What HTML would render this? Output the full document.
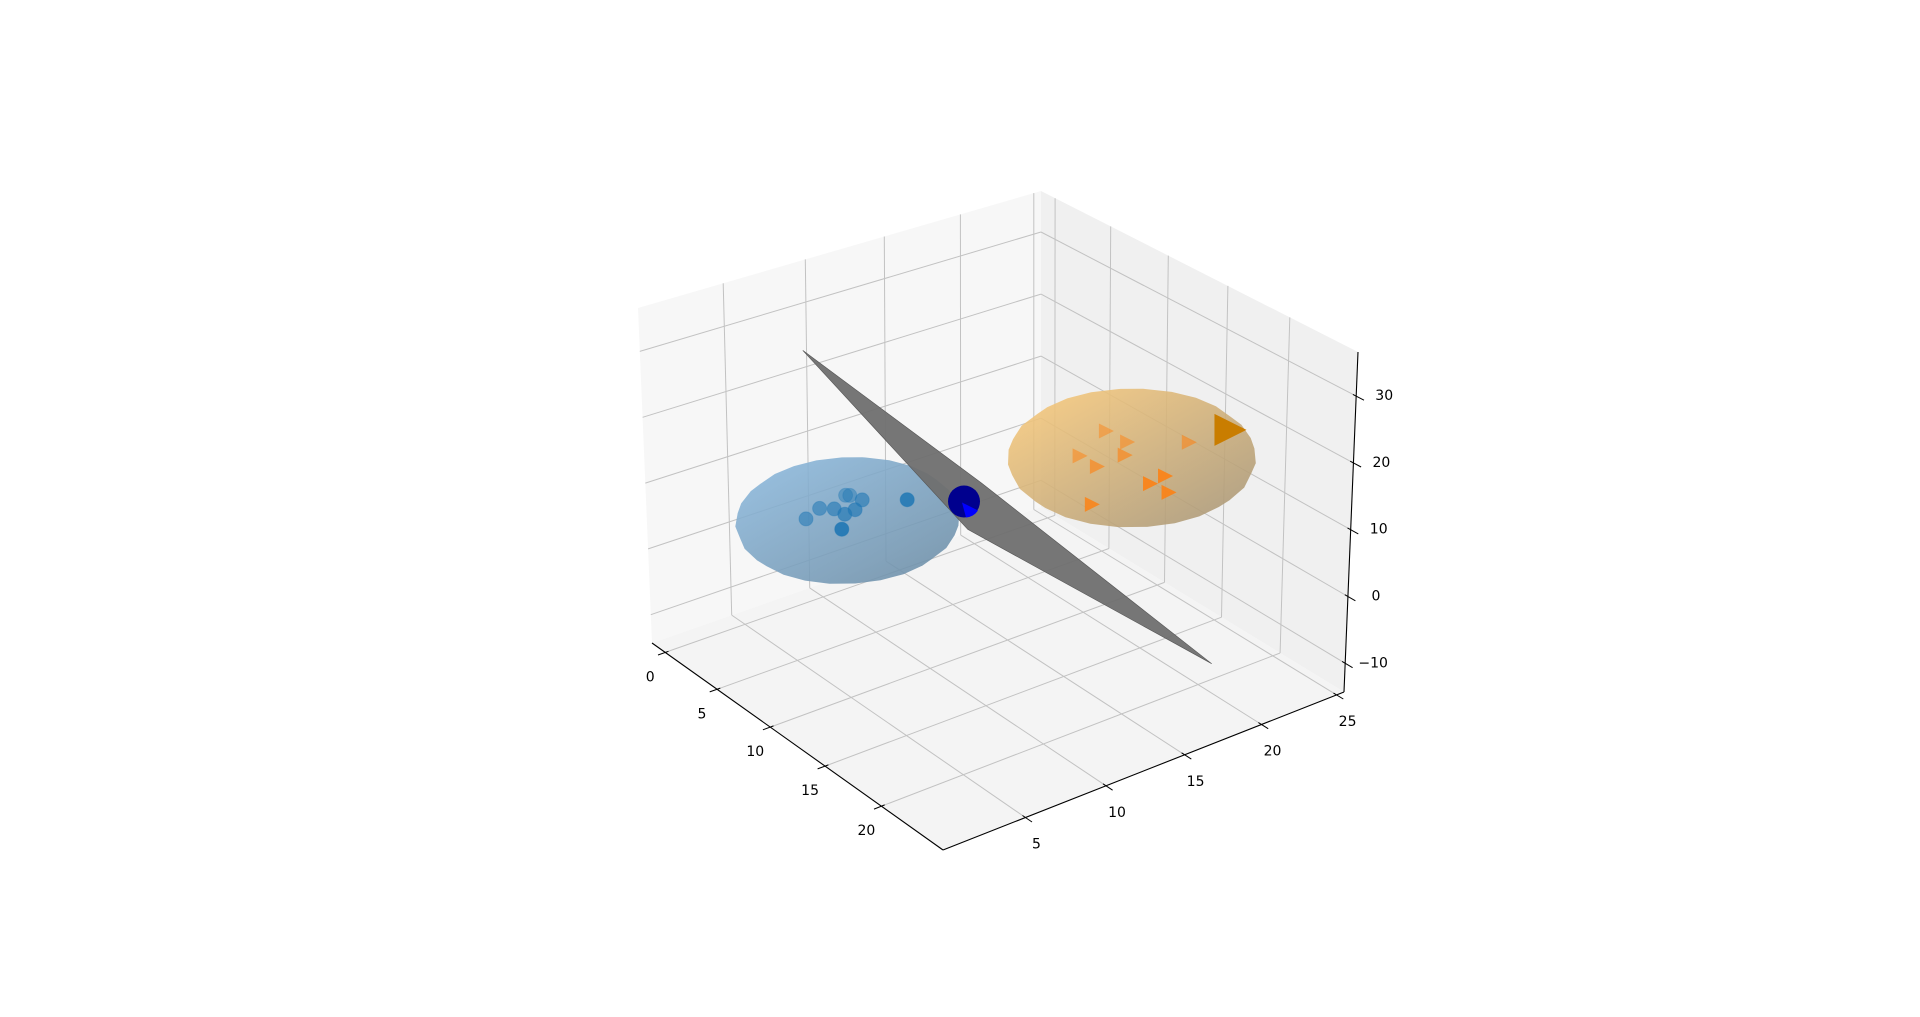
<!DOCTYPE html>
<html><head><meta charset="utf-8">
<style>
html,body{margin:0;padding:0;background:#fff;}
svg{display:block;}
text{font-family:"DejaVu Sans","Liberation Sans",sans-serif;font-size:14px;fill:#000;}
</style></head>
<body>
<svg id="chart" width="1920" height="1017" viewBox="0 0 1920 1017" xmlns="http://www.w3.org/2000/svg">
<defs>
<linearGradient id="gBlue" x1="0" y1="0" x2="1" y2="1"><stop offset="0" stop-color="#8dbbe0"/><stop offset="1" stop-color="#6a8aa2"/></linearGradient>
<linearGradient id="gOrange" x1="0" y1="0" x2="1" y2="1"><stop offset="0" stop-color="#fdcc7a"/><stop offset="1" stop-color="#a39377"/></linearGradient>
</defs>
<g id="panes"></g>
<g id="grid"></g>
<g id="axes"></g>
<g id="marks"></g>
</svg>
<script>
// ---- data ----
const xTicks=[0,5,10,15,20];
const yTicks=[5,10,15,20,25];
const zTicks=[-10,0,10,20,30];
const zTickLabels=["\u221210","0","10","20","30"];
const blueCenter=[5.8,7.75,5.6];
const blueRadius=5.8;
const orangeCenter=[20.8,14.6,25.2];
const orangeRadius=6.2;
const blueX=[5.8,5.8,5.8,5.8,5.8,5.8,5.8,5.8,5.8,5.8];
const blueY=[7.62,7.88,8.65,6.01,6.91,7.56,8.2,5.17,7.36,11.49];
const blueZ=[9.35,9.12,7.81,8.69,7.87,6.53,6.7,7.8,4.43,5.54];
const blueAlpha=[0.45,0.45,0.6,0.55,0.6,0.65,0.65,0.55,0.9,0.85];
const orangeX=[20.8,20.8,20.8,20.8,20.8,20.8,20.8,20.8,20.8,20.8];
const orangeY=[12.92,14.28,18.28,11.31,12.41,14.15,16.79,15.83,17.05,12.15];
const orangeZ=[30.37,27.61,24.28,28.04,25.53,25.76,20.47,20.14,17.82,20.15];
const orangeAlpha=[0.45,0.5,0.55,0.5,0.6,0.6,0.85,0.85,0.85,0.8];
const bigTriangle=[20.8,20.99,23.94];
const separatorPoint=[5.8,15.15,2.3];
const planeCorners=[[-0.2,9.05,24.3],[5.8,16.3,4.2],[17.8,22.65,-15.9],[5.8,15.4,-2.2]];

// ---- projection ----
const XMIN=-1.3,XMAX=25.3,YMIN=0,YMAX=25.5,ZMIN=-14.3,ZMAX=36.6;
const floorQ=[[652,643],[943,850],[1344,692],[1041,507]];
const topQ=[[638,308],[945,500],[1358,352],[1041,191]];
function homog(q){
  const [x0,y0]=q[0],[x1,y1]=q[1],[x2,y2]=q[2],[x3,y3]=q[3];
  const dx1=x1-x2,dx2=x3-x2,dx3=x0-x1+x2-x3,dy1=y1-y2,dy2=y3-y2,dy3=y0-y1+y2-y3;
  const den=dx1*dy2-dx2*dy1;
  const g=(dx3*dy2-dx2*dy3)/den,h=(dx1*dy3-dx3*dy1)/den;
  const a=x1-x0+g*x1,b=x3-x0+h*x3,c=x0,d=y1-y0+g*y1,e=y3-y0+h*y3,f=y0;
  return (u,v)=>{const w=g*u+h*v+1;return [(a*u+b*v+c)/w,(d*u+e*v+f)/w];};
}
const fH=homog(floorQ),tH=homog(topQ);
function proj(x,y,z){
  const u=(x-XMIN)/(XMAX-XMIN),v=(y-YMIN)/(YMAX-YMIN),w=(z-ZMIN)/(ZMAX-ZMIN);
  const a=fH(u,v),b=tH(u,v);
  return [a[0]+(b[0]-a[0])*w,a[1]+(b[1]-a[1])*w];
}
const NS="http://www.w3.org/2000/svg";
function mk(tag,attrs,parent){const el=document.createElementNS(NS,tag);for(const k in attrs)el.setAttribute(k,attrs[k]);parent.appendChild(el);return el;}
function pts(arr){return arr.map(p=>p[0].toFixed(1)+","+p[1].toFixed(1)).join(" ");}
const gP=document.getElementById('panes'),gG=document.getElementById('grid'),gA=document.getElementById('axes'),gM=document.getElementById('marks');

let el;
el=mk('polygon',{points:pts([proj(XMIN,YMIN,ZMIN),proj(XMIN,YMAX,ZMIN),proj(XMIN,YMAX,ZMAX),proj(XMIN,YMIN,ZMAX)]),fill:'#f7f7f7'},gP);


el=mk('polygon',{points:pts([proj(XMIN,YMAX,ZMIN),proj(XMAX,YMAX,ZMIN),proj(XMAX,YMAX,ZMAX),proj(XMIN,YMAX,ZMAX)]),fill:'#f0f0f0'},gP);


el=mk('polygon',{points:pts([proj(XMIN,YMIN,ZMIN),proj(XMAX,YMIN,ZMIN),proj(XMAX,YMAX,ZMIN),proj(XMIN,YMAX,ZMIN)]),fill:'#f4f4f4'},gP);



function line(p,q,parent,stroke,sw){return mk('line',{x1:p[0].toFixed(1),y1:p[1].toFixed(1),x2:q[0].toFixed(1),y2:q[1].toFixed(1),stroke:stroke,'stroke-width':sw},parent);}
const GC='#c2c2c2';
xTicks.forEach(t=>{
  el=line(proj(t,YMIN,ZMIN),proj(t,YMAX,ZMIN),gG,GC,1);
  
  
  el=line(proj(t,YMAX,ZMIN),proj(t,YMAX,ZMAX),gG,GC,1);
  
  
});
yTicks.forEach(t=>{
  el=line(proj(XMIN,t,ZMIN),proj(XMAX,t,ZMIN),gG,GC,1);
  
  
  el=line(proj(XMIN,t,ZMIN),proj(XMIN,t,ZMAX),gG,GC,1);
  
  
});
zTicks.forEach(t=>{
  el=line(proj(XMIN,YMIN,t),proj(XMIN,YMAX,t),gG,GC,1);
  
  
  el=line(proj(XMIN,YMAX,t),proj(XMAX,YMAX,t),gG,GC,1);
  
  
});

el=line(proj(XMIN,YMIN,ZMIN),proj(XMAX,YMIN,ZMIN),gA,'#000',1.1);


el=line(proj(XMAX,YMIN,ZMIN),proj(XMAX,YMAX,ZMIN),gA,'#000',1.1);


el=line(proj(XMAX,YMAX,ZMIN),proj(XMAX,YMAX,ZMAX),gA,'#000',1.1);


function label(txt,x,y,parent){const t=mk('text',{x:x.toFixed(1),y:y.toFixed(1),'text-anchor':'middle','dominant-baseline':'central'},parent);t.textContent=txt;return t;}
xTicks.forEach(t=>{
  el=line(proj(t,YMIN-0.45,ZMIN),proj(t,YMIN+0.2,ZMIN),gA,'#000',1);
  
  
  const p=proj(t,YMIN,ZMIN);
  el=label(String(t),p[0]-15,p[1]+25,gA);
  
  
});
yTicks.forEach(t=>{
  el=line(proj(XMAX-0.25,t,ZMIN),proj(XMAX+0.55,t,ZMIN),gA,'#000',1);
  
  
  const p=proj(XMAX,t,ZMIN);
  el=label(String(t),p[0]+11,p[1]+27,gA);
  
  
});
zTicks.forEach((t,i)=>{
  el=line(proj(XMAX-0.25,YMAX,t),proj(XMAX+0.6,YMAX,t),gA,'#000',1);
  
  
  const p=proj(XMAX,YMAX,t);
  el=label(zTickLabels[i],p[0]+28,p[1],gA);
  
  
});

function hull(P){
  P=P.slice().sort((a,b)=>a[0]-b[0]||a[1]-b[1]);
  const cr=(o,a,b)=>(a[0]-o[0])*(b[1]-o[1])-(a[1]-o[1])*(b[0]-o[0]);
  const lo=[],up=[];
  for(const p of P){while(lo.length>=2&&cr(lo[lo.length-2],lo[lo.length-1],p)<=0)lo.pop();lo.push(p);}
  for(let i=P.length-1;i>=0;i--){const p=P[i];while(up.length>=2&&cr(up[up.length-2],up[up.length-1],p)<=0)up.pop();up.push(p);}
  up.pop();lo.pop();return lo.concat(up);
}
function sphereOutline(c,r){
  const P=[];
  for(let i=0;i<=12;i++){const th=Math.PI*i/12;for(let j=0;j<24;j++){const ph=2*Math.PI*j/24;
    P.push(proj(c[0]+r*Math.sin(th)*Math.cos(ph),c[1]+r*Math.sin(th)*Math.sin(ph),c[2]+r*Math.cos(th)));}}
  return hull(P);
}
el=mk('polygon',{points:pts(sphereOutline(blueCenter,blueRadius)),fill:'url(#gBlue)','fill-opacity':0.88},gM);



blueX.forEach((x,i)=>{
  const p=proj(x,blueY[i],blueZ[i]);
  el=mk('circle',{cx:p[0].toFixed(1),cy:p[1].toFixed(1),r:7,fill:'#1f77b4','fill-opacity':blueAlpha[i],stroke:'#1f77b4','stroke-opacity':blueAlpha[i]*0.6},gM);
  
  
});

el=mk('polygon',{points:pts(planeCorners.map(c=>proj(c[0],c[1],c[2]))),fill:'#6f6f6f','fill-opacity':0.95,stroke:'#555','stroke-width':0.6},gM);



const sp=proj(separatorPoint[0],separatorPoint[1],separatorPoint[2]);
el=mk('circle',{cx:sp[0].toFixed(1),cy:sp[1].toFixed(1),r:16,fill:'#00008e'},gM);


el=mk('path',{d:`M${sp[0]-2},${sp[1]+1} L${sp[0]+14},${sp[1]+9} A16 16 0 0 1 ${sp[0]+2},${sp[1]+16} Z`,fill:'#0000ff'},gM);



el=mk('polygon',{points:pts(sphereOutline(orangeCenter,orangeRadius)),fill:'url(#gOrange)','fill-opacity':0.88},gM);



function tri(p,s){return `${p[0]+s},${p[1]} ${p[0]-s},${p[1]-s} ${p[0]-s},${p[1]+s}`;}
orangeX.forEach((x,i)=>{
  const p=proj(x,orangeY[i],orangeZ[i]);
  el=mk('polygon',{points:tri(p,7.5),fill:'#ff7f0e','fill-opacity':orangeAlpha[i]},gM);
  
  
});
const bt=proj(bigTriangle[0],bigTriangle[1],bigTriangle[2]);
el=mk('polygon',{points:tri(bt,16),fill:'#c97d00'},gM);


</script>
</body></html>
